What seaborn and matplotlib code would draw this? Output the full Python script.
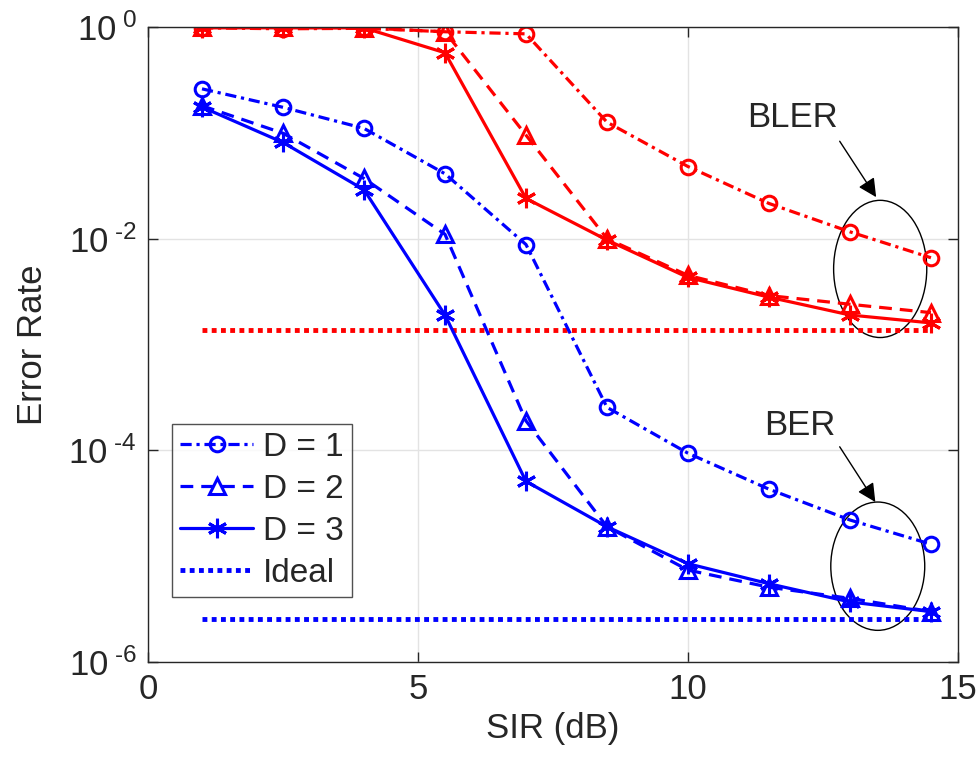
import matplotlib
matplotlib.use("Agg")
import matplotlib.pyplot as plt
from matplotlib.patches import Ellipse
import numpy as np
import pandas as pd
import seaborn as sns

sns.set_style("ticks")
plt.rcParams['font.family'] = ['Liberation Sans', 'DejaVu Sans']
plt.rcParams['mathtext.fontset'] = 'custom'
plt.rcParams['mathtext.rm'] = 'Liberation Sans'
plt.rcParams['mathtext.it'] = 'Liberation Sans'

sir = [1, 2.5, 4, 5.5, 7, 8.5, 10, 11.5, 13, 14.5]

# BER curves
ber_d1 = [0.26, 0.174, 0.11, 0.041, 0.0088, 2.55e-4, 9.4e-5, 4.3e-5, 2.2e-5, 1.3e-5]
ber_d2 = [0.18, 0.099, 0.037, 0.011, 1.9e-4, 1.9e-5, 7.4e-6, 5.1e-6, 4.0e-6, 3.0e-6]
ber_d3 = [0.175, 0.081, 0.029, 1.9e-3, 5.1e-5, 1.9e-5, 8.5e-6, 5.5e-6, 3.7e-6, 3.0e-6]
ber_ideal = 2.55e-6

# BLER curves
bler_d1 = [0.98, 0.96, 0.97, 0.9, 0.86, 0.126, 0.048, 0.0215, 0.0116, 0.0066]
bler_d2 = [0.99, 0.99, 0.98, 0.9, 0.095, 0.010, 0.0045, 0.0029, 0.0024, 0.0020]
bler_d3 = [0.98, 0.98, 0.98, 0.57, 0.024, 0.0097, 0.0043, 0.0028, 0.0019, 0.0016]
bler_ideal = 1.38e-3

ideal_x = [1, 14.5]

df = pd.DataFrame({'SIR': sir,
                   'BER1': ber_d1, 'BER2': ber_d2, 'BER3': ber_d3,
                   'BLER1': bler_d1, 'BLER2': bler_d2, 'BLER3': bler_d3})
df_ideal = pd.DataFrame({'SIR': ideal_x,
                         'BER': [ber_ideal] * 2, 'BLER': [bler_ideal] * 2})

fig = plt.figure(figsize=(9.77, 7.69), dpi=100)
ax = fig.add_axes([0.1515, 0.139, 0.829, 0.826])

asterisk = (6, 2, 0)
styles = [('1', 'o', 10.5, (0, (3.5, 1.5, 1, 1.5))),
          ('2', '^', 12, (0, (4, 2.5))),
          ('3', asterisk, 14, '-')]
labels = ['D = 1', 'D = 2', 'D = 3']

for prefix, color in [('BLER', 'red'), ('BER', 'blue')]:
    for (d, mk, ms, ls), lab in zip(styles, labels):
        sns.lineplot(ax=ax, data=df, x='SIR', y=prefix + d, color=color,
                     marker=mk, markersize=ms,
                     markerfacecolor='none', markeredgecolor=color,
                     markeredgewidth=2.2, linewidth=2.3, linestyle=ls,
                     label=lab if prefix == 'BER' else None, legend=False)
    sns.lineplot(ax=ax, data=df_ideal, x='SIR', y=prefix, color=color,
                 linewidth=3.5, linestyle=(0, (1, 0.9)),
                 label='Ideal' if prefix == 'BER' else None, legend=False)

ax.set_yscale('log')
ax.set_xlim(0, 15)
ax.set_ylim(1e-6, 1)
ax.set_xticks([0, 5, 10, 15])
ax.set_yticks([1e-6, 1e-4, 1e-2, 1])
ax.set_yticklabels([r'$10^{\ \text{-6}}$', r'$10^{\ \text{-4}}$',
                    r'$10^{\ \text{-2}}$', r'$10^{\ 0}$'])
ax.yaxis.set_minor_locator(matplotlib.ticker.NullLocator())
ax.grid(True, color='#e3e3e3', linewidth=1)
ax.tick_params(direction='in', length=7, width=1, colors='#262626',
               labelsize=25, top=True, right=True, pad=8)
for sp in ax.spines.values():
    sp.set_color('#262626')
    sp.set_linewidth(1)

ax.set_xlabel('SIR (dB)', fontsize=25, color='#262626', labelpad=4)
ax.set_ylabel('Error Rate', fontsize=25, color='#262626', labelpad=14)

leg = ax.legend(loc='lower left', bbox_to_anchor=(0.029, 0.102), fontsize=24,
                frameon=True, fancybox=False, edgecolor='#262626',
                handlelength=2.2, handletextpad=0.3, labelspacing=0.33,
                borderpad=0.25, borderaxespad=0)
leg.get_frame().set_linewidth(1)

# annotation ellipses and arrows
ax.add_patch(Ellipse((0.904, 0.619), 0.115, 0.216, transform=ax.transAxes,
                     fill=False, edgecolor='black', linewidth=1))
ax.add_patch(Ellipse((0.901, 0.151), 0.116, 0.202, transform=ax.transAxes,
                     fill=False, edgecolor='black', linewidth=1))
ax.text(0.796, 0.857, 'BLER', transform=ax.transAxes, fontsize=25,
        ha='center', va='center')
ax.text(0.805, 0.373, 'BER', transform=ax.transAxes, fontsize=25,
        ha='center', va='center')
arrow = dict(arrowstyle='-|>', lw=1, color='black', mutation_scale=28,
             shrinkA=0, shrinkB=0)
ax.annotate('', xy=(0.899, 0.732), xytext=(0.854, 0.820),
            xycoords='axes fraction', arrowprops=arrow)
ax.annotate('', xy=(0.898, 0.252), xytext=(0.854, 0.339),
            xycoords='axes fraction', arrowprops=arrow)

plt.savefig('out.png', dpi=100)
